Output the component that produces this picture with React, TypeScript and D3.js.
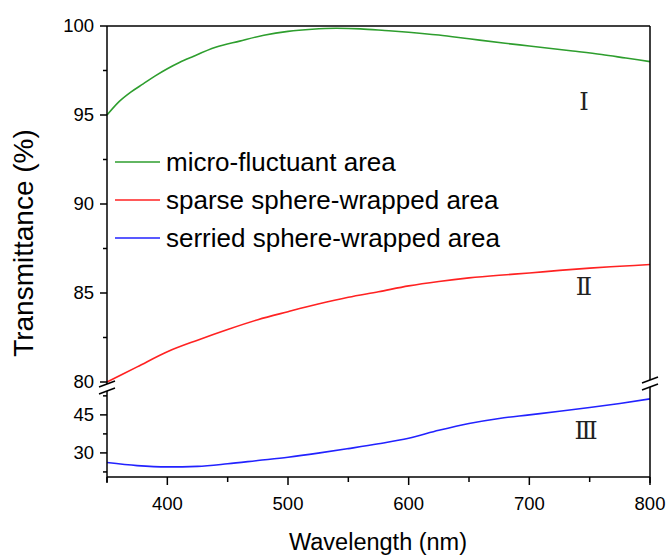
import React from 'react';
import * as d3 from 'd3';

// wavelength samples (nm) and transmittance (%)
const greenWl = [350, 360, 370, 380, 390, 400, 410, 420, 440, 460, 480, 500, 520, 540, 560, 580, 600, 625, 650, 680, 700, 736, 760, 780, 800];
const greenT = [95.0, 95.75, 96.3, 96.75, 97.2, 97.6, 97.95, 98.25, 98.8, 99.15, 99.48, 99.7, 99.82, 99.87, 99.84, 99.75, 99.65, 99.49, 99.28, 99.03, 98.88, 98.6, 98.4, 98.2, 98.0];

const redWl = [350, 375, 400, 425, 450, 475, 500, 525, 550, 575, 600, 625, 650, 675, 700, 725, 750, 775, 800];
const redT = [80.0, 80.85, 81.7, 82.35, 82.95, 83.5, 83.95, 84.38, 84.76, 85.07, 85.4, 85.65, 85.85, 86.0, 86.12, 86.27, 86.4, 86.5, 86.6];

const blueWl = [350, 375, 400, 425, 450, 475, 500, 525, 550, 575, 600, 625, 650, 675, 700, 725, 750, 775, 800];
const blueT = [26.2, 25.0, 24.5, 24.7, 25.7, 27.0, 28.3, 29.9, 31.7, 33.6, 35.8, 38.9, 41.6, 43.6, 45.0, 46.4, 47.9, 49.5, 51.3];

const xTicks = [400, 500, 600, 700, 800];
const xMinor = [350, 450, 550, 650, 750];
const yTopTicks = [80, 85, 90, 95, 100];
const yTopMinor = [82.5, 87.5, 92.5, 97.5];
const yBotTicks = [30, 45];
const yBotMinor = [22.5, 37.5, 52.5];

const legendNames = ['micro-fluctuant area', 'sparse sphere-wrapped area', 'serried sphere-wrapped area'];
const colors = ['#2e9e2e', '#ff2222', '#2222ff'];
const regionLabels = ['Ⅰ', 'Ⅱ', 'Ⅲ'];

const font = 'Arial, "Liberation Sans", sans-serif';

export default function App() {
  const W = 667, H = 556;
  const left = 107, right = 650, top = 26, bottom = 477;
  const breakTop = 384, breakBot = 391;

  const x = d3.scaleLinear().domain([350, 800]).range([left, right]);
  const yTop = d3.scaleLinear().domain([80, 100]).range([382, top]);
  const yBot = d3.scaleLinear().domain([20.5, 55.6]).range([bottom, 388]);

  const lineTop = d3.line<[number, number]>()
    .x(d => x(d[0]))
    .y(d => yTop(d[1]))
    .curve(d3.curveMonotoneX);
  const lineBot = d3.line<[number, number]>()
    .x(d => x(d[0]))
    .y(d => yBot(d[1]))
    .curve(d3.curveMonotoneX);

  const green = greenWl.map((w, i) => [w, greenT[i]] as [number, number]);
  const red = redWl.map((w, i) => [w, redT[i]] as [number, number]);
  const blue = blueWl.map((w, i) => [w, blueT[i]] as [number, number]);

  const slash = (cx: number, cy: number) => `M${cx - 8},${cy + 3}L${cx + 8},${cy - 3}`;

  return (
    <svg width={W} height={H} style={{ position: 'absolute', left: 0, top: 0, background: '#fff' }}>
      {/* curves */}
      <path d={lineTop(green) || ''} fill="none" stroke={colors[0]} strokeWidth={1.6} />
      <path d={lineTop(red) || ''} fill="none" stroke={colors[1]} strokeWidth={1.6} />
      <path d={lineBot(blue) || ''} fill="none" stroke={colors[2]} strokeWidth={1.6} />

      {/* frame with axis breaks */}
      <g stroke="#000" strokeWidth={1.5} fill="none">
        <line x1={left} x2={right} y1={top} y2={top} />
        <line x1={left} x2={left} y1={top} y2={breakTop} />
        <line x1={left} x2={left} y1={breakBot} y2={bottom + 6} />
        <line x1={right} x2={right} y1={top} y2={breakTop - 4} />
        <line x1={right} x2={right} y1={breakBot - 4} y2={bottom + 6} />
        <line x1={left} x2={right} y1={bottom} y2={bottom} />
        <path d={slash(left, breakTop)} />
        <path d={slash(left, breakBot)} />
        <path d={slash(right, breakTop - 4)} />
        <path d={slash(right, breakBot - 4)} />
      </g>

      {/* ticks */}
      <g stroke="#000" strokeWidth={1.5}>
        {yTopTicks.map(t => <line key={t} x1={left - 7} x2={left} y1={yTop(t)} y2={yTop(t)} />)}
        {yTopMinor.map(t => <line key={t} x1={left - 4} x2={left} y1={yTop(t)} y2={yTop(t)} />)}
        {yBotTicks.map(t => <line key={t} x1={left - 7} x2={left} y1={yBot(t)} y2={yBot(t)} />)}
        {yBotMinor.map(t => <line key={t} x1={left - 4} x2={left} y1={yBot(t)} y2={yBot(t)} />)}
        {xTicks.map(t => <line key={t} x1={x(t)} x2={x(t)} y1={bottom} y2={bottom + 8} />)}
        {xMinor.map(t => <line key={t} x1={x(t)} x2={x(t)} y1={bottom} y2={bottom + 5} />)}
      </g>

      <g fontFamily={font} fontSize={18.5} fill="#000">
        {yTopTicks.map(t => (
          <text key={t} x={left - 13} y={yTop(t)} dy="0.35em" textAnchor="end">{t}</text>
        ))}
        {yBotTicks.map(t => (
          <text key={t} x={left - 13} y={yBot(t)} dy="0.35em" textAnchor="end">{t}</text>
        ))}
        {xTicks.map(t => (
          <text key={t} x={x(t)} y={510} textAnchor="middle">{t}</text>
        ))}
      </g>

      {/* axis titles */}
      <text x={378} y={550} textAnchor="middle" fontFamily={font} fontSize={23.5}>Wavelength (nm)</text>
      <text transform="translate(33,243) rotate(-90)" textAnchor="middle" fontFamily={font} fontSize={28}>Transmittance (%)</text>

      {/* legend */}
      {legendNames.map((n, i) => (
        <g key={n} transform={`translate(115,${162 + i * 38})`}>
          <line x1={0} x2={45} y1={0} y2={0} stroke={colors[i]} strokeWidth={1.6} />
          <text x={51} y={0} dy="0.35em" fontFamily={font} fontSize={26}>{n}</text>
        </g>
      ))}

      {/* region markers */}
      <g fontFamily='"DejaVu Serif", "Liberation Serif", serif' fontSize={24} textAnchor="middle" fill="#222">
        <text x={584} y={102} dy="0.35em">{regionLabels[0]}</text>
        <text x={584} y={287} dy="0.35em">{regionLabels[1]}</text>
        <text x={586} y={431} dy="0.35em">{regionLabels[2]}</text>
      </g>
    </svg>
  );
}
